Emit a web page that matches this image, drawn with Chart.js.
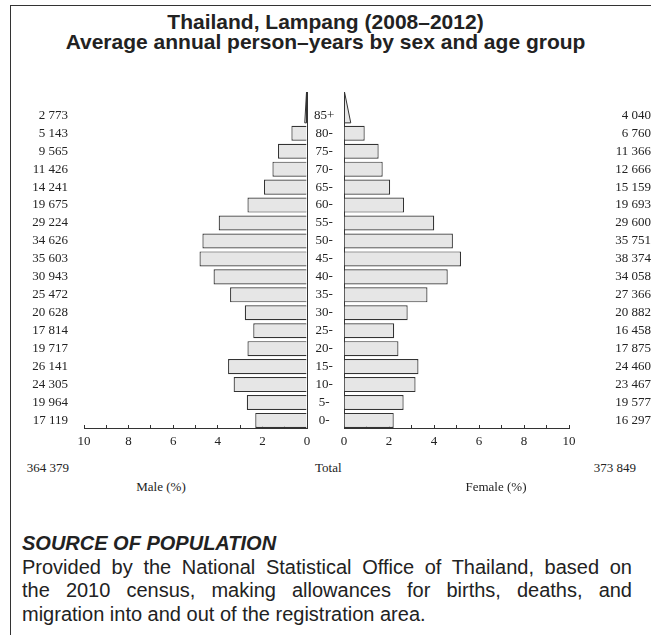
<!DOCTYPE html>
<html>
<head>
<meta charset="utf-8">
<script src="https://cdn.jsdelivr.net/npm/chart.js@4.4.1/dist/chart.umd.min.js"></script>
<style>
  body { margin: 0; background: #fff; }
  #page { position: relative; width: 651px; height: 635px; overflow: hidden;
          font-family: "Liberation Sans", Arial, sans-serif; color: #222; }
  #frame { position: absolute; left: 10px; top: 5px; right: -2px; bottom: -2px;
           border-left: 1px solid #333; border-top: 1px solid #333; }
  .title { position: absolute; left: 0; width: 651px; top: 12px; text-align: center;
           font-weight: bold; font-size: 21px; line-height: 20px; }
  .lbl { position: absolute; font-family: "Liberation Serif", "Times New Roman", serif;
         font-size: 13px; line-height: 14px; white-space: nowrap; }
  .wrap { position: absolute; top: 86px; height: 374px; }
  .src { position: absolute; left: 22px; width: 610px; top: 532px;
         font-size: 20px; line-height: 23.5px; }
  .src .head { font-weight: bold; font-style: italic; }
  .src .just { text-align: justify; text-align-last: justify; }
</style>
</head>
<body>
<div id="page">
  <div id="frame"></div>
  <div class="title">Thailand, Lampang (2008–2012)<br>Average annual person–years by sex and age group</div>

  <div class="wrap" style="left:0; width:340px;"><canvas id="male"></canvas></div>
  <div class="wrap" style="left:338px; width:313px;"><canvas id="female"></canvas></div>

  <div class="lbl" style="left:0; width:69px; text-align:right; top:461px;">364 379</div>
  <div class="lbl" style="left:315px; top:461px;">Total</div>
  <div class="lbl" style="left:0; width:636px; text-align:right; top:461px;">373 849</div>
  <div class="lbl" style="left:101px; width:120px; text-align:center; top:480px;">Male (%)</div>
  <div class="lbl" style="left:436px; width:120px; text-align:center; top:480px;">Female (%)</div>

  <div class="src">
    <div class="head">SOURCE OF POPULATION</div>
    <div class="just">Provided by the National Statistical Office of Thailand, based on</div>
    <div class="just">the 2010 census, making allowances for births, deaths, and</div>
    <div>migration into and out of the registration area.</div>
  </div>
</div>

<script>
  // age groups bottom to top
  const AGE_GROUPS = ["0-", "5-", "10-", "15-", "20-", "25-", "30-", "35-", "40-",
    "45-", "50-", "55-", "60-", "65-", "70-", "75-", "80-", "85+"];

  const MALE_COUNTS = ["17 119", "19 964", "24 305", "26 141", "19 717", "17 814",
    "20 628", "25 472", "30 943", "35 603", "34 626", "29 224", "19 675", "14 241",
    "11 426", "9 565", "5 143", "2 773"];

  const FEMALE_COUNTS = ["16 297", "19 577", "23 467", "24 460", "17 875", "16 458",
    "20 882", "27 366", "34 058", "38 374", "35 751", "29 600", "19 693", "15 159",
    "12 666", "11 366", "6 760", "4 040"];

  // percent of all person-years; last entry (85+) is drawn as a wedge
  const MALE_PCT = [2.32, 2.70, 3.29, 3.54, 2.67, 2.41, 2.79, 3.45, 4.19, 4.82,
    4.69, 3.96, 2.67, 1.93, 1.55, 1.30, 0.70, 0.10];

  const FEMALE_PCT = [2.21, 2.65, 3.18, 3.31, 2.42, 2.23, 2.83, 3.71, 4.61, 5.20,
    4.84, 4.01, 2.67, 2.05, 1.72, 1.54, 0.92, 0.30];

  const BAR_FILL = "#e6e6e6";
  const BAR_EDGE = "#333";
  const AXIS = "#333";
  const TEXT = "#222";
  const SERIF = { family: "'Liberation Serif', 'Times New Roman', serif", size: 13 };
  const LAST = AGE_GROUPS.length - 1;

  // open-ended age group: a wedge rising to the top of the axis
  const openAgeWedge = {
    id: "openAgeWedge",
    afterDatasetsDraw(chart) {
      const el = chart.getDatasetMeta(0).data[LAST];
      if (!el) return;
      const { x, y, base, height } = el.getProps(["x", "y", "base", "height"], true);
      const bottom = y + height / 2;
      const ctx = chart.ctx;
      ctx.save();
      ctx.beginPath();
      ctx.moveTo(base, chart.chartArea.top);
      ctx.lineTo(x, bottom);
      ctx.lineTo(base, bottom);
      ctx.closePath();
      ctx.fillStyle = BAR_FILL;
      ctx.fill();
      ctx.strokeStyle = BAR_EDGE;
      ctx.lineWidth = 1;
      ctx.stroke();
      ctx.restore();
    },
  };

  function rowTicks(scale) {
    scale.ticks = AGE_GROUPS.map((_, i) => ({ value: i }));
  }

  // fixed box size, and no extra inset for overhanging labels
  function fixSize(w, h) {
    return (s) => {
      if (w != null) s.width = w;
      if (h != null) s.height = h;
      s.paddingLeft = s.paddingRight = s.paddingTop = s.paddingBottom = 0;
    };
  }

  function yBase(extra) {
    return Object.assign({
      type: "linear",
      offset: false,
      min: -0.42,
      max: 18.3,
      afterBuildTicks: rowTicks,
      grid: { display: false, drawTicks: false },
    }, extra);
  }

  function makePanel(id, pct, isMale) {
    const counts = isMale ? MALE_COUNTS : FEMALE_COUNTS;
    const scales = {
      x: {
        type: "linear",
        reverse: isMale,
        min: 0,
        max: 10,
        afterFit: fixSize(null, 32),
        border: { color: AXIS, width: 1 },
        grid: { drawOnChartArea: false, tickLength: -3, color: AXIS, lineWidth: 1 },
        ticks: {
          stepSize: 1,
          autoSkip: false,
          maxRotation: 0,
          padding: 9,
          font: SERIF,
          color: TEXT,
          callback: (v) => (v % 2 === 0 ? v : ""),
        },
      },
    };

    if (isMale) {
      scales.yCount = yBase({
        position: "left",
        afterFit: fixSize(84, null),
        border: { display: false },
        ticks: { autoSkip: false, padding: 16, font: SERIF, color: TEXT, callback: (v) => counts[v] },
      });
      scales.yAge = yBase({
        position: "right",
        afterFit: fixSize(33, null),
        border: { color: AXIS, width: 1 },
        ticks: { autoSkip: false, padding: 7, crossAlign: "center", font: SERIF, color: TEXT,
                 callback: (v) => AGE_GROUPS[v] },
      });
    } else {
      scales.yEdge = yBase({
        position: "left",
        afterFit: fixSize(6, null),
        border: { color: AXIS, width: 1 },
        ticks: { display: false },
      });
      scales.yCount = yBase({
        position: "right",
        afterFit: fixSize(82, null),
        border: { display: false },
        ticks: { autoSkip: false, padding: 31, crossAlign: "far", font: SERIF, color: TEXT,
                 callback: (v) => counts[v] },
      });
    }

    return new Chart(document.getElementById(id), {
      type: "bar",
      data: {
        datasets: [{
          data: pct.map((v, i) => ({ x: v, y: i })),
          xAxisID: "x",
          yAxisID: "yCount",
          backgroundColor: (c) => (c.dataIndex === LAST ? "rgba(0,0,0,0)" : BAR_FILL),
          borderColor: BAR_EDGE,
          borderWidth: (c) => (c.dataIndex === LAST ? 0 : 1.2),
          categoryPercentage: 1,
          barPercentage: 0.84,
        }],
      },
      options: {
        indexAxis: "y",
        responsive: true,
        maintainAspectRatio: false,
        animation: false,
        layout: { padding: { top: 6, left: 0, right: 0, bottom: 0 } },
        plugins: { legend: { display: false }, tooltip: { enabled: false } },
        scales,
      },
      plugins: [openAgeWedge],
    });
  }

  makePanel("male", MALE_PCT, true);
  makePanel("female", FEMALE_PCT, false);
</script>
</body>
</html>
